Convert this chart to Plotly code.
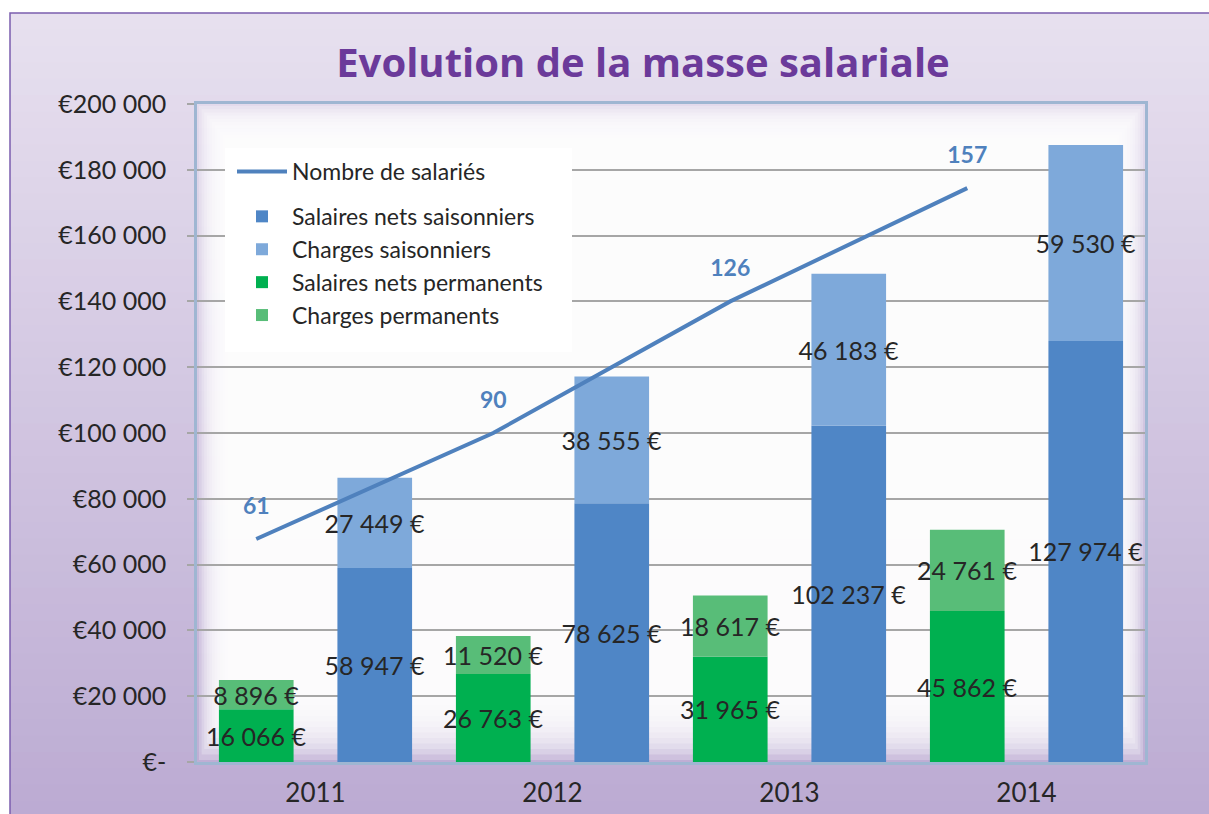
import plotly.graph_objects as go

years = ["2011", "2012", "2013", "2014"]
nets_perm = [16066, 26763, 31965, 45862]
charges_perm = [8896, 11520, 18617, 24761]
nets_sais = [58947, 78625, 102237, 127974]
charges_sais = [27449, 38555, 46183, 59530]
salaries = [61, 90, 126, 157]

y_ticks = [0, 20000, 40000, 60000, 80000, 100000, 120000, 140000, 160000, 180000, 200000]
y_ticklabels = ["€-", "€20 000", "€40 000", "€60 000", "€80 000", "€100 000",
                "€120 000", "€140 000", "€160 000", "€180 000", "€200 000"]

W, H = 1209, 814
ML, MR, MT, MB = 197, 64, 104, 52
PW, PH = W - ML - MR, H - MT - MB

def px_x(p):
    return (p - ML) / PW

def px_y(p):
    return (H - MB - p) / PH

def eur(v):
    return f"{v:,}".replace(",", " ") + " €"

FONT = "Lato"
TXT = "#262626"
C_NS = "#4F86C6"
C_CS = "#7EA9DA"
C_NP = "#00B050"
C_CP = "#58BD78"
C_LINE = "#4F81BD"

fig = go.Figure()

common = dict(textposition="inside", insidetextanchor="middle", constraintext="none",
              textangle=0, textfont=dict(family=FONT, size=25, color=TXT), cliponaxis=False,
              legendgroup="bars")

fig.add_trace(go.Bar(x=years, y=nets_perm, name="Salaires nets permanents", offsetgroup="p",
                     marker=dict(color=C_NP, line=dict(width=0)), text=[eur(v) for v in nets_perm],
                     legendrank=3, **common))
fig.add_trace(go.Bar(x=years, y=charges_perm, base=nets_perm, name="Charges permanents", offsetgroup="p",
                     marker=dict(color=C_CP, line=dict(width=0)), text=[eur(v) for v in charges_perm],
                     legendrank=4, **common))
fig.add_trace(go.Bar(x=years, y=nets_sais, name="Salaires nets saisonniers", offsetgroup="s",
                     marker=dict(color=C_NS, line=dict(width=0)), text=[eur(v) for v in nets_sais],
                     legendrank=1, **common))
fig.add_trace(go.Bar(x=years, y=charges_sais, base=nets_sais, name="Charges saisonniers", offsetgroup="s",
                     marker=dict(color=C_CS, line=dict(width=0)), text=[eur(v) for v in charges_sais],
                     legendrank=2, **common))
fig.add_trace(go.Scatter(x=years, y=salaries, name="Nombre de salariés", mode="lines",
                         line=dict(color=C_LINE, width=4), xaxis="x2", yaxis="y2",
                         legendrank=0, legendgroup="line", cliponaxis=False))
fig.add_trace(go.Scatter(x=years, y=salaries, mode="markers+text", showlegend=False,
                         xaxis="x2", yaxis="y2", hoverinfo="skip",
                         marker=dict(size=30, color="rgba(0,0,0,0)"),
                         text=[f"<b>{n}</b>" for n in salaries], textposition="top center",
                         textfont=dict(family=FONT, size=23, color=C_LINE), cliponaxis=False))

# background gradient (figure)
shapes = []
top_c = (231, 224, 239)
bot_c = (187, 170, 210)
y_start, y_end = 13, H + 20
N = 50
for i in range(N):
    t = i / (N - 1)
    c = tuple(int(round(top_c[k] + (bot_c[k] - top_c[k]) * t)) for k in range(3))
    ya = y_start + (y_end - y_start) * i / N
    yb = y_start + (y_end - y_start) * (i + 1) / N + 1
    shapes.append(dict(type="rect", xref="paper", yref="paper", x0=px_x(10), x1=px_x(W + 20),
                       y0=px_y(ya), y1=px_y(yb), fillcolor=f"rgb{c}", line=dict(width=0), layer="below"))
# plot area glow
for k in range(12):
    shapes.append(dict(type="rect", xref="paper", yref="paper",
                       x0=px_x(ML + 2 + k * 2.6), x1=px_x(ML + PW - 2 - k * 2.6),
                       y0=px_y(H - MB - 2 - k * 5.5), y1=px_y(MT + 2 + k * 3.2),
                       fillcolor="rgba(255,255,255,0.24)", line=dict(width=0), layer="below"))
# legend box
shapes.append(dict(type="rect", xref="paper", yref="paper", x0=px_x(225), x1=px_x(572),
                   y0=px_y(352), y1=px_y(148), fillcolor="white", line=dict(width=0), layer="above"))
# outer border
shapes.append(dict(type="rect", xref="paper", yref="paper", x0=px_x(10), x1=px_x(W + 20),
                   y0=px_y(H + 20), y1=px_y(13), fillcolor="rgba(0,0,0,0)",
                   line=dict(color="#7B5DAE", width=1.5), layer="above"))

fig.update_layout(
    width=W, height=H,
    margin=dict(l=ML, r=MR, t=MT, b=MB, autoexpand=False),
    paper_bgcolor="white", plot_bgcolor="rgba(0,0,0,0)",
    barmode="group", bargap=0.0, bargroupgap=0.37,
    shapes=shapes,
    title=dict(text="<b>Evolution de la masse salariale</b>", x=643 / W, xanchor="center",
               y=1 - 63 / H, yanchor="middle",
               font=dict(family="Open Sans", size=40, color="#6B3A9A")),
    xaxis=dict(type="category", categoryorder="array", categoryarray=years, range=[-0.5, 3.5],
               showgrid=False, showline=True, linecolor="#9FB6D2", linewidth=2.5, mirror=True,
               automargin=False,
               ticks="", tickfont=dict(family=FONT, size=26, color=TXT), ticklabelstandoff=6),
    yaxis=dict(range=[0, 200000], tickvals=y_ticks, ticktext=y_ticklabels,
               showgrid=True, gridcolor="#A6A6A6", gridwidth=1.5, zeroline=False,
               showline=True, linecolor="#9FB6D2", linewidth=2.5, mirror=True, automargin=False,
               ticks="outside", ticklen=7, tickcolor="#A6A6A6", tickwidth=1.5,
               ticklabelstandoff=16, tickfont=dict(family=FONT, size=25, color=TXT)),
    xaxis2=dict(type="category", categoryorder="array", categoryarray=years, range=[-0.25, 3.75],
                overlaying="x", visible=False),
    yaxis2=dict(range=[0, 180], overlaying="y", visible=False),
    legend=dict(x=px_x(232), y=px_y(150), xanchor="left", yanchor="top",
                bgcolor="rgba(255,255,255,0)", font=dict(family=FONT, size=23, color=TXT),
                traceorder="grouped", itemwidth=50, tracegroupgap=12),
    showlegend=True,
)

fig.write_html("out.html")
